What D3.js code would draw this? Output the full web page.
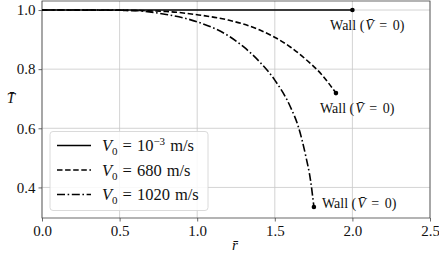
<!DOCTYPE html>
<html>
<head>
<meta charset="utf-8">
<script src="https://cdn.jsdelivr.net/npm/d3@7"></script>
<style>
  body { margin: 0; background: #fff; }
  text { font-family: "Liberation Serif", "DejaVu Serif", serif; fill: #111; }
</style>
</head>
<body>
<div id="chart"></div>
<script>
// data (r-bar, T-bar)
var lowSpeedR = [0.0, 2.0];
var lowSpeedT = [1.0, 1.0];

var midSpeedR = [0.0, 0.5, 0.8, 1.0, 1.2, 1.4, 1.6, 1.7, 1.8, 1.894];
var midSpeedT = [1.0, 0.999, 0.995, 0.984, 0.966, 0.933, 0.875, 0.833, 0.783, 0.719];

var highSpeedR = [0.0, 0.4, 0.6, 0.8, 1.0, 1.2, 1.3, 1.4, 1.5, 1.6, 1.65, 1.7, 1.73, 1.752];
var highSpeedT = [1.0, 1.0, 0.998, 0.985, 0.960, 0.913, 0.875, 0.826, 0.763, 0.673, 0.608, 0.505, 0.425, 0.334];

var xTicks = [0.0, 0.5, 1.0, 1.5, 2.0, 2.5];
var yTicks = [0.4, 0.6, 0.8, 1.0];

var legendSpeeds = ["10", "680", "1020"];
var legendExps = ["\u22123", "", ""];
var dashes = [null, "5.5,2.6", "8,2.6,1.6,2.6"];

// annotation text anchors, in data units
var wallLabelR = [1.856, 1.791, 1.804];
var wallLabelT = [0.949, 0.668, 0.346];

var W = 439, H = 254;
var margin = {top: 1, right: 9, bottom: 36, left: 42};
var width = W - margin.left - margin.right,
    height = H - margin.top - margin.bottom;

var svg = d3.select("#chart").append("svg")
  .attr("width", W).attr("height", H);

var g = svg.append("g")
  .attr("transform", "translate(" + margin.left + "," + margin.top + ")");

var x = d3.scaleLinear().domain([0, 2.5]).range([0, width]);
var y = d3.scaleLinear().domain([0.2966, 1.0305]).range([height, 0]);

// grid
g.append("g").selectAll("line").data(xTicks).enter().append("line")
  .attr("x1", d => x(d)).attr("x2", d => x(d))
  .attr("y1", 0).attr("y2", height)
  .attr("stroke", "#c8c8c8").attr("stroke-width", 0.8);
g.append("g").selectAll("line").data(yTicks).enter().append("line")
  .attr("y1", d => y(d)).attr("y2", d => y(d))
  .attr("x1", 0).attr("x2", width)
  .attr("stroke", "#c8c8c8").attr("stroke-width", 0.8);

// axes
var xAxis = g.append("g")
  .attr("transform", "translate(0," + height + ")")
  .call(d3.axisBottom(x).tickValues(xTicks).tickFormat(d3.format(".1f")).tickSize(3.5).tickPadding(4));
var yAxis = g.append("g")
  .call(d3.axisLeft(y).tickValues(yTicks).tickFormat(d3.format(".1f")).tickSize(3.5).tickPadding(3));

[xAxis, yAxis].forEach(a => {
  a.select(".domain").remove();
  a.selectAll("line").attr("stroke", "#444").attr("stroke-width", 0.8);
  a.selectAll("text").attr("font-family", null)
    .style("font-family", "'Liberation Serif', 'DejaVu Serif', serif")
    .style("font-size", "15px").attr("fill", "#111");
});

// frame
g.append("rect").attr("width", width).attr("height", height)
  .attr("fill", "none").attr("stroke", "#444").attr("stroke-width", 0.8);

// curves
var series = [
  d3.zip(lowSpeedR, lowSpeedT),
  d3.zip(midSpeedR, midSpeedT),
  d3.zip(highSpeedR, highSpeedT)
];
var lineSmooth = d3.line().x(d => x(d[0])).y(d => y(d[1])).curve(d3.curveMonotoneX);

series.forEach((s, i) => {
  g.append("path").datum(s)
    .attr("d", lineSmooth)
    .attr("fill", "none").attr("stroke", "#000")
    .attr("stroke-width", 1.6)
    .attr("stroke-dasharray", dashes[i]);
  var last = s[s.length - 1];
  g.append("circle").attr("cx", x(last[0])).attr("cy", y(last[1])).attr("r", 2.3).attr("fill", "#000");
});

// wall labels
wallLabelR.forEach((r, i) => {
  var t = g.append("text")
    .attr("x", x(r)).attr("y", y(wallLabelT[i]))
    .attr("dy", "0.35em")
    .style("font-size", "14px");
  t.append("tspan").text("Wall (");
  t.append("tspan").attr("dx", 1).style("font-style", "italic").text("V\u0304");
  t.append("tspan").attr("dx", 5.5).text("=");
  t.append("tspan").attr("dx", 5.5).text("0)");
});

// legend
var leg = g.append("g").attr("transform", "translate(8,130.5)");
leg.append("rect").attr("width", 158).attr("height", 79).attr("rx", 3)
  .attr("fill", "#fff").attr("fill-opacity", 0.85)
  .attr("stroke", "#d0d0d0").attr("stroke-width", 0.8);

legendSpeeds.forEach((v, i) => {
  var yy = 14 + i * 24.5;
  leg.append("line").attr("x1", 7).attr("x2", 41).attr("y1", yy).attr("y2", yy)
    .attr("stroke", "#000").attr("stroke-width", 1.6)
    .attr("stroke-dasharray", dashes[i]);
  var t = leg.append("text").attr("x", 52).attr("y", yy).attr("dy", "0.35em")
    .style("font-size", "16.5px");
  t.append("tspan").style("font-style", "italic").text("V");
  t.append("tspan").attr("dy", 4).style("font-size", "11px").text("0");
  t.append("tspan").attr("dy", -4).attr("dx", 5).text("=");
  t.append("tspan").attr("dx", 5).text(v);
  if (legendExps[i]) {
    t.append("tspan").attr("dy", -6).style("font-size", "11px").text(legendExps[i]);
    t.append("tspan").attr("dy", 6).attr("dx", 5).text("m/s");
  } else {
    t.append("tspan").attr("dx", 5).text("m/s");
  }
});

// axis labels
svg.append("text").attr("x", margin.left + x(1.25) - 4).attr("y", 250)
  .style("font-size", "15px").style("font-style", "italic")
  .text("r\u0304");
svg.append("text").attr("x", 11).attr("y", 98).attr("text-anchor", "middle")
  .attr("dy", "0.35em").style("font-size", "15px").style("font-style", "italic")
  .text("T\u0304");
</script>
</body>
</html>
